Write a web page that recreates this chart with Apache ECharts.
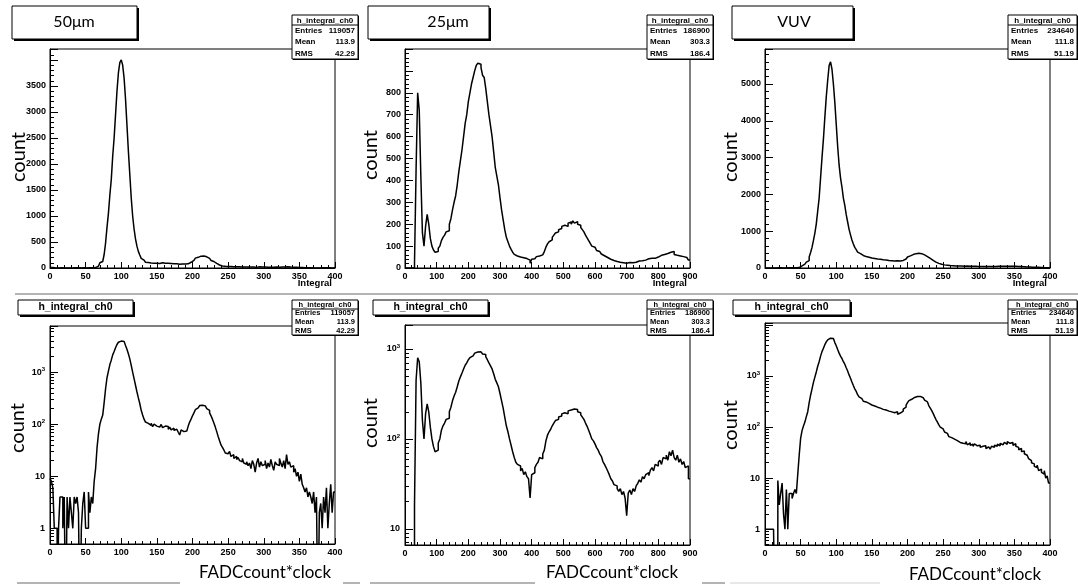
<!DOCTYPE html>
<html><head><meta charset="utf-8">
<script src="https://cdn.jsdelivr.net/npm/echarts@6/dist/echarts.min.js"></script>
<style>html,body{margin:0;padding:0;background:#fff}#c{width:1078px;height:587px}</style>
</head><body><div id="c"></div>
<script>
// ---------------- data ----------------
const panelTitles = ['50μm', '25μm', 'VUV'];
const histName = 'h_integral_ch0';
const statsEntries = ['119057', '186900', '234640'];
const statsMean = ['113.9', '303.3', '111.8'];
const statsRMS = ['42.29', '186.4', '51.19'];
const xAxisTitle = 'Integral';
const xAxisCaption = 'FADCcount*clock';
const yAxisTitle = 'count';

// bin widths (FADC integral units)
const binWidth50um = 2;
const binWidth25um = 5;
const binWidthVUV = 2;

// counts per bin, starting at 0
const counts50um = [
 9,8,6,1,1,0,1,4,4,1,
 4,0,4,1,4,2,1,4,3,4,
 2,0,1,3,5,1,1,5,2,4,
 3,8,14,35,65,100,125,150,260,480,
 780,1050,1400,1700,2150,2500,2950,3400,3750,3950,
 4000,3900,3650,3250,2750,2250,1800,1350,1000,750,
 560,420,320,250,185,150,125,110,104,98,
 95,104,90,100,92,98,88,95,99,86,
 92,85,90,80,88,78,84,76,80,74,
 70,62,78,72,76,74,80,92,110,125,
 145,165,190,205,220,228,232,230,225,215,
 200,185,165,145,125,105,88,72,58,48,
 40,36,32,28,27,25,30,24,26,22,
 24,21,23,20,19,22,18,17,19,16,
 18,14,20,17,12,18,22,15,19,16,
 17,20,14,18,15,21,16,13,19,17,
 16,22,18,15,20,14,26,17,19,15,
 16,12,14,10,12,8,11,7,6,5,
 6,4,5,4,3,5,2,4,0,2,
 3,1,4,2,6,1,3,7,2,5];

const counts25um = [
 0,0,0,0,0,0,18,450,800,720,
 420,160,100,190,245,200,135,100,82,72,
 75,90,100,125,140,150,165,170,200,225,
 265,300,330,380,440,490,540,600,660,700,
 760,800,840,870,900,925,935,930,915,880,
 870,820,760,700,650,600,530,460,420,380,
 320,265,220,175,140,120,100,85,72,62,
 55,52,50,44,47,40,43,38,36,22,
 40,42,48,52,55,62,60,68,75,95,
 110,120,128,140,150,160,165,175,180,190,
 195,200,190,205,210,200,215,205,212,200,
 195,185,175,165,150,138,125,112,100,95,
 88,80,75,68,64,56,52,48,44,40,
 36,34,31,30,28,26,28,24,26,22,
 14,25,27,24,28,26,30,32,35,33,
 38,36,40,42,39,45,48,44,52,50,
 55,58,52,62,60,66,58,72,65,75,
 62,58,66,55,60,52,56,48,50,36];

const countsVUV = [
 1,1,1,1,1,1,1,0,0,9,
 3,5,8,2,1,6,1,5,5,4,
 5,6,5,12,28,60,85,105,125,160,
 200,300,420,560,750,950,1200,1550,1900,2450,
 3000,3500,4100,4650,5100,5500,5600,5400,5000,4500,
 3900,3300,2800,2450,2200,1900,1700,1450,1250,1050,
 900,760,650,560,500,430,390,360,340,320,
 310,300,290,280,270,262,258,250,245,240,
 235,230,222,225,215,210,205,200,198,195,
 190,185,200,178,188,195,205,225,245,270,
 300,330,350,365,380,390,395,400,398,390,
 375,355,335,310,290,260,235,210,185,160,
 140,125,110,100,92,85,80,75,70,65,
 62,60,58,55,54,52,50,53,48,50,
 47,52,45,49,44,46,42,47,43,41,
 44,40,42,39,43,38,41,40,37,42,
 40,44,42,46,43,48,45,47,50,46,
 52,48,46,50,44,47,42,40,36,38,
 33,34,30,28,26,24,22,20,19,17,
 16,18,14,15,13,12,14,10,11,8];

// axis ranges / tick steps
const xMax = [400, 900, 400];
const xStep = [50, 100, 50];
const yLinMax = [4211, 1000, 5950];
const yLinStep = [500, 100, 1000];
const yLinHideFrom = [4000, 900, 6000];
const yLogMin = [0.5, 6.6, 0.49];
const yLogMax = [7700, 1850, 10900];

// ---------------- build ----------------
const hists = [
  {counts: counts50um, w: binWidth50um},
  {counts: counts25um, w: binWidth25um},
  {counts: countsVUV, w: binWidthVUV}
];
function toSteps(h, logMode) {
  const out = h.counts.map((c, i) => [i * h.w, logMode && c <= 0 ? 0.01 : c]);
  const last = h.counts[h.counts.length - 1];
  out.push([h.counts.length * h.w, logMode && last <= 0 ? 0.01 : last]);
  return out;
}

const gridBoxes = [
  {left: 50, top: 49, width: 285, height: 219},
  {left: 405, top: 49, width: 285, height: 219},
  {left: 765, top: 49, width: 285, height: 219},
  {left: 50, top: 326, width: 285, height: 218},
  {left: 405, top: 325, width: 285, height: 220},
  {left: 765, top: 323, width: 285, height: 222}
];

const labelFont = {fontFamily: 'Liberation Sans, Arial, sans-serif', fontWeight: 'bold', fontSize: 9, color: '#000'};
const black = {color: '#000', width: 1};

const grids = [], xAxes = [], yAxes = [], series = [];
gridBoxes.forEach((g, k) => {
  const p = k % 3, logMode = k >= 3;
  grids.push(Object.assign({show: true, borderColor: '#000', borderWidth: 1, backgroundColor: '#fff', containLabel: false, outerBoundsMode: 'none'}, g));
  xAxes.push({
    type: 'value', gridIndex: k, min: 0, max: xMax[p], interval: xStep[p],
    axisLine: {lineStyle: black}, splitLine: {show: false},
    axisTick: {inside: true, length: 6, lineStyle: black},
    minorTick: {show: true, splitNumber: 5, length: 3, lineStyle: black},
    axisLabel: Object.assign({margin: 4}, labelFont)
  });
  if (!logMode) {
    yAxes.push({
      type: 'value', gridIndex: k, min: 0, max: yLinMax[p], interval: yLinStep[p],
      axisLine: {lineStyle: black}, splitLine: {show: false},
      axisTick: {inside: true, length: 8, lineStyle: black},
      minorTick: {show: true, splitNumber: 5, length: 4, lineStyle: black},
      axisLabel: Object.assign({margin: 4, showMaxLabel: false,
        formatter: v => (v >= yLinHideFrom[p] ? '' : String(v))}, labelFont)
    });
  } else {
    yAxes.push({
      type: 'log', logBase: 10, gridIndex: k, min: yLogMin[p], max: yLogMax[p],
      axisLine: {lineStyle: black}, splitLine: {show: false},
      axisTick: {inside: true, length: 8, lineStyle: black},
      minorTick: {show: true, splitNumber: 9, length: 4, lineStyle: black},
      axisLabel: Object.assign({margin: 5, showMinLabel: false, showMaxLabel: false,
        formatter: v => {
          const l = Math.log10(v), e = Math.round(l);
          if (Math.abs(l - e) > 0.01 || e >= 4) return '';
          if (e === 0) return '1';
          if (e === 1) return '10';
          return '10{s|' + e + '}';
        },
        rich: {s: {fontFamily: 'Liberation Sans, Arial, sans-serif', fontWeight: 'bold', fontSize: 6, color: '#000', padding: [0, 0, 6, 0]}}
      }, labelFont)
    });
  }
  series.push({
    type: 'line', step: 'end', xAxisIndex: k, yAxisIndex: k,
    data: toSteps(hists[p], logMode), symbol: 'none', showSymbol: false,
    lineStyle: {color: '#000', width: 1.5}, silent: true, animation: false
  });
});

// ---------------- decorations ----------------
const G = [];
const calibri = 'Lato, "Open Sans", sans-serif';
const arialB = 'bold {S}px "Liberation Sans", Arial, sans-serif';
function box(x, y, w, h, shadow) {
  if (shadow) G.push({type: 'rect', shape: {x: x + shadow, y: y + shadow, width: w, height: h}, style: {fill: '#000'}, z: 10});
  G.push({type: 'rect', shape: {x: x, y: y, width: w, height: h}, style: {fill: '#fff', stroke: '#000', lineWidth: 1}, z: 11});
}
function txt(x, y, s, font, align, extra) {
  G.push(Object.assign({type: 'text', x: x, y: y, z: 12,
    style: {text: s, font: font, fill: '#000', align: align || 'center', verticalAlign: 'middle'}}, extra || {}));
}
function line(x1, y1, x2, y2, color, w) {
  G.push({type: 'line', shape: {x1: x1, y1: y1, x2: x2, y2: y2}, style: {stroke: color, lineWidth: w}, z: 9});
}

// separators (light gray)
line(15, 294, 1078, 294, '#b4b4b4', 2);
line(17, 583, 180, 583, '#b4b4b4', 2);
line(343, 583, 360, 583, '#b4b4b4', 2);
line(370, 583, 535, 583, '#b4b4b4', 2);
line(702, 583, 725, 583, '#b4b4b4', 2);
line(730, 583, 880, 583, '#d0d0d0', 1);

// top title boxes
const titleBoxes = [[12, 6, 125, 33, 74], [368, 6, 121, 33, 448], [732, 6, 121, 33, 794]];
titleBoxes.forEach((b, i) => {
  box(b[0], b[1], b[2], b[3], 2);
  txt(b[4], b[1] + 16, panelTitles[i], '16px ' + calibri);
});

// stats boxes
const statsTop = [[292, 15, 66, 44], [647, 15, 66, 44], [1008, 15, 69, 44]];
const statsBot = [[292, 300, 66, 35], [647, 300, 66, 35], [1008, 300, 69, 35]];
function stats(b, i, compact) {
  box(b[0], b[1], b[2], b[3], 1);
  const hh = compact ? 9 : 10;
  line(b[0], b[1] + hh, b[0] + b[2], b[1] + hh, '#000', 1);
  G[G.length - 1].z = 12;
  const f = arialB.replace('{S}', compact ? '7.5' : '8');
  txt(b[0] + b[2] / 2, b[1] + hh / 2 + 0.5, histName, f);
  const rowH = (b[3] - hh) / 3;
  const rows = [['Entries', statsEntries[i]], ['Mean', statsMean[i]], ['RMS', statsRMS[i]]];
  rows.forEach((r, j) => {
    const yy = b[1] + hh + rowH * (j + 0.5);
    txt(b[0] + 3, yy, r[0], f, 'left');
    txt(b[0] + b[2] - 3, yy, r[1], f, 'right');
  });
}
statsTop.forEach((b, i) => stats(b, i, false));
statsBot.forEach((b, i) => stats(b, i, true));

// bottom name boxes
const nameBoxes = [[18, 300, 115, 15], [373, 300, 115, 15], [733, 300, 117, 15]];
nameBoxes.forEach(b => {
  box(b[0], b[1], b[2], b[3], 2);
  txt(b[0] + b[2] / 2, b[1] + b[3] / 2, histName, arialB.replace('{S}', '10.5'));
});

// axis titles
[[332, 283], [687, 283], [1047, 283]].forEach(p => txt(p[0], p[1], xAxisTitle, arialB.replace('{S}', '9.5'), 'right'));
[[265, 573], [612, 573], [975, 575]].forEach(p => txt(p[0], p[1], xAxisCaption, '17px ' + calibri));
[[19, 157], [371, 155], [731, 157], [18, 428], [371, 423], [731, 425]].forEach(p =>
  txt(p[0], p[1], yAxisTitle, '20px ' + calibri, 'center', {rotation: Math.PI / 2}));

const chart = echarts.init(document.getElementById('c'), null, {renderer: 'canvas'});
chart.setOption({
  animation: false,
  backgroundColor: '#fff',
  grid: grids, xAxis: xAxes, yAxis: yAxes, series: series,
  graphic: {elements: G}
});
</script></body></html>
